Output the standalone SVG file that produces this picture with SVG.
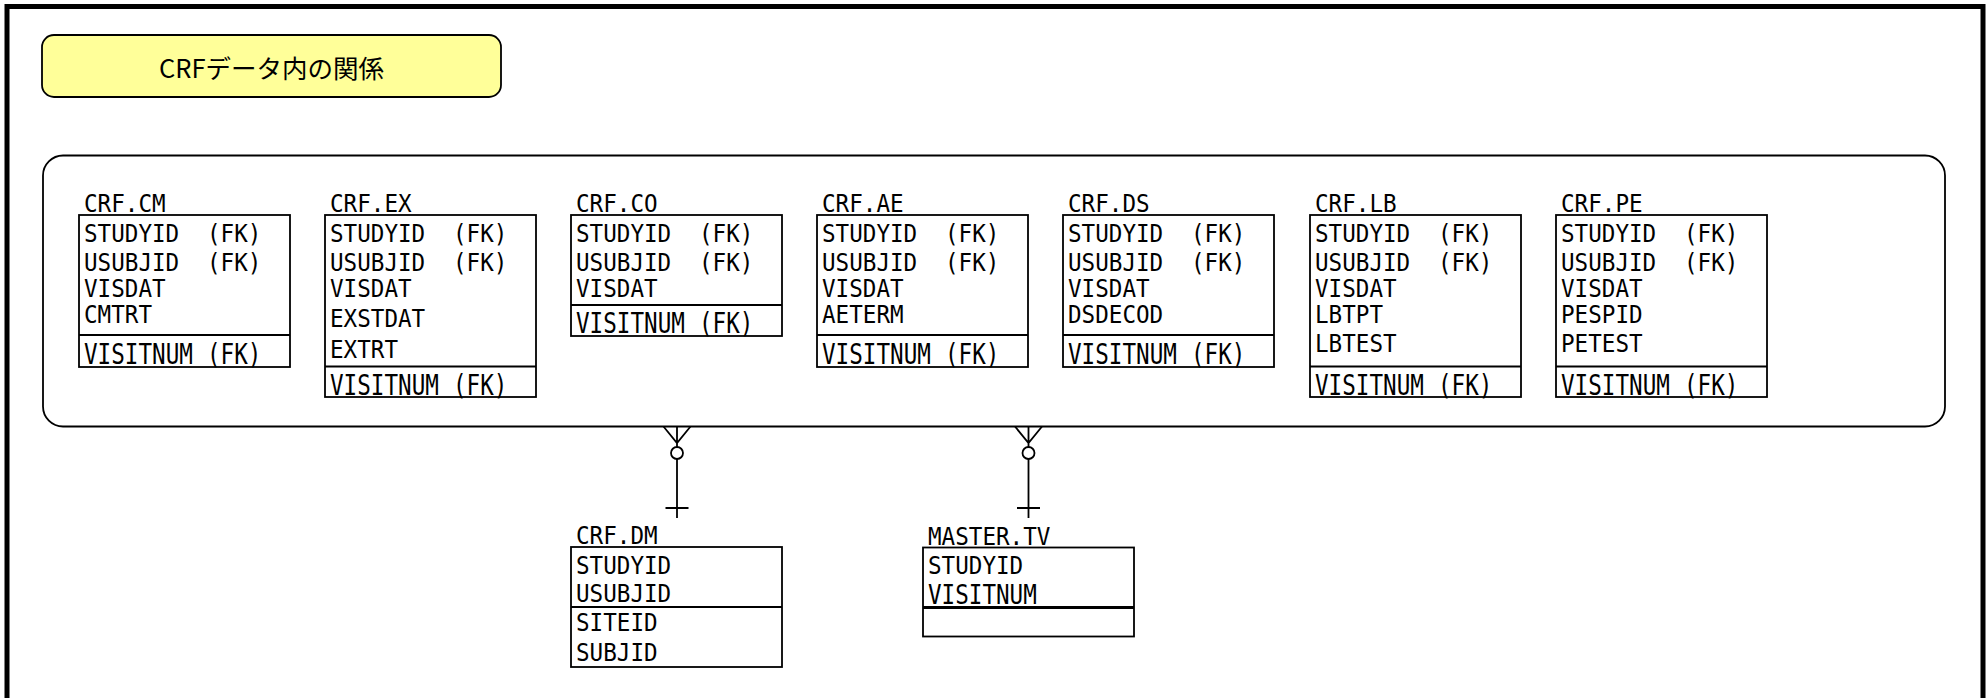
<svg xmlns="http://www.w3.org/2000/svg" width="1986" height="698" viewBox="0 0 1986 698">
<style>
.frame{fill:none;stroke:#000;stroke-width:5}
.titlebox{fill:#FFFF99;stroke:#000;stroke-width:1.8}
.ttl{font-family:"Noto Sans CJK JP","Noto Sans",sans-serif;font-size:25.5px;fill:#000}
.cont{fill:#fff;stroke:#000;stroke-width:1.8}
.box{fill:#fff;stroke:#000;stroke-width:1.8}
.sep{stroke:#000;stroke-width:1.8}
.sep2{stroke:#000;stroke-width:3}
.t{font-family:"DejaVu Sans Mono","Liberation Mono",monospace;font-size:22.6px;fill:#000}
.conn{stroke:#000;stroke-width:1.8;fill:none}
</style>
<rect class="frame" x="7" y="6.5" width="1976" height="760"/>
<g id="title">
<rect class="titlebox" x="42" y="35" width="459" height="62" rx="12"/>
<text class="ttl" x="271.5" y="78" text-anchor="middle">CRFデータ内の関係</text>
</g>
<g id="crf-container">
<rect class="cont" x="43" y="155.5" width="1902" height="271" rx="20"/>
</g>
<g id="crf-cm" transform="translate(79,215)">
<text class="t" transform="translate(5,-3) scale(1,1.1)">CRF.CM</text>
<rect class="box" x="0" y="0" width="211" height="152"/>
<line class="sep" x1="0" y1="120" x2="211" y2="120"/>
<text class="t" transform="translate(5,27) scale(1,1.11)">STUDYID</text><text class="t" transform="translate(128,27) scale(1,1.11)">(FK)</text>
<text class="t" transform="translate(5,56) scale(1,1.11)">USUBJID</text><text class="t" transform="translate(128,56) scale(1,1.11)">(FK)</text>
<text class="t" transform="translate(5,82) scale(1,1.11)">VISDAT</text>
<text class="t" transform="translate(5,108) scale(1,1.11)">CMTRT</text>
<text class="t" transform="translate(5,148.5) scale(1,1.25)">VISITNUM</text><text class="t" transform="translate(128,148.5) scale(1,1.25)">(FK)</text>
</g>
<g id="crf-ex" transform="translate(325,215)">
<text class="t" transform="translate(5,-3) scale(1,1.1)">CRF.EX</text>
<rect class="box" x="0" y="0" width="211" height="182"/>
<line class="sep" x1="0" y1="151.5" x2="211" y2="151.5"/>
<text class="t" transform="translate(5,27) scale(1,1.11)">STUDYID</text><text class="t" transform="translate(128,27) scale(1,1.11)">(FK)</text>
<text class="t" transform="translate(5,56) scale(1,1.11)">USUBJID</text><text class="t" transform="translate(128,56) scale(1,1.11)">(FK)</text>
<text class="t" transform="translate(5,82) scale(1,1.11)">VISDAT</text>
<text class="t" transform="translate(5,112) scale(1,1.11)">EXSTDAT</text>
<text class="t" transform="translate(5,143) scale(1,1.11)">EXTRT</text>
<text class="t" transform="translate(5,179.5) scale(1,1.25)">VISITNUM</text><text class="t" transform="translate(128,179.5) scale(1,1.25)">(FK)</text>
</g>
<g id="crf-co" transform="translate(571,215)">
<text class="t" transform="translate(5,-3) scale(1,1.1)">CRF.CO</text>
<rect class="box" x="0" y="0" width="211" height="121"/>
<line class="sep" x1="0" y1="90" x2="211" y2="90"/>
<text class="t" transform="translate(5,27) scale(1,1.11)">STUDYID</text><text class="t" transform="translate(128,27) scale(1,1.11)">(FK)</text>
<text class="t" transform="translate(5,56) scale(1,1.11)">USUBJID</text><text class="t" transform="translate(128,56) scale(1,1.11)">(FK)</text>
<text class="t" transform="translate(5,82) scale(1,1.11)">VISDAT</text>
<text class="t" transform="translate(5,118) scale(1,1.25)">VISITNUM</text><text class="t" transform="translate(128,118) scale(1,1.25)">(FK)</text>
</g>
<g id="crf-ae" transform="translate(817,215)">
<text class="t" transform="translate(5,-3) scale(1,1.1)">CRF.AE</text>
<rect class="box" x="0" y="0" width="211" height="152"/>
<line class="sep" x1="0" y1="120" x2="211" y2="120"/>
<text class="t" transform="translate(5,27) scale(1,1.11)">STUDYID</text><text class="t" transform="translate(128,27) scale(1,1.11)">(FK)</text>
<text class="t" transform="translate(5,56) scale(1,1.11)">USUBJID</text><text class="t" transform="translate(128,56) scale(1,1.11)">(FK)</text>
<text class="t" transform="translate(5,82) scale(1,1.11)">VISDAT</text>
<text class="t" transform="translate(5,108) scale(1,1.11)">AETERM</text>
<text class="t" transform="translate(5,148.5) scale(1,1.25)">VISITNUM</text><text class="t" transform="translate(128,148.5) scale(1,1.25)">(FK)</text>
</g>
<g id="crf-ds" transform="translate(1063,215)">
<text class="t" transform="translate(5,-3) scale(1,1.1)">CRF.DS</text>
<rect class="box" x="0" y="0" width="211" height="152"/>
<line class="sep" x1="0" y1="120" x2="211" y2="120"/>
<text class="t" transform="translate(5,27) scale(1,1.11)">STUDYID</text><text class="t" transform="translate(128,27) scale(1,1.11)">(FK)</text>
<text class="t" transform="translate(5,56) scale(1,1.11)">USUBJID</text><text class="t" transform="translate(128,56) scale(1,1.11)">(FK)</text>
<text class="t" transform="translate(5,82) scale(1,1.11)">VISDAT</text>
<text class="t" transform="translate(5,108) scale(1,1.11)">DSDECOD</text>
<text class="t" transform="translate(5,148.5) scale(1,1.25)">VISITNUM</text><text class="t" transform="translate(128,148.5) scale(1,1.25)">(FK)</text>
</g>
<g id="crf-lb" transform="translate(1310,215)">
<text class="t" transform="translate(5,-3) scale(1,1.1)">CRF.LB</text>
<rect class="box" x="0" y="0" width="211" height="182"/>
<line class="sep" x1="0" y1="151.5" x2="211" y2="151.5"/>
<text class="t" transform="translate(5,27) scale(1,1.11)">STUDYID</text><text class="t" transform="translate(128,27) scale(1,1.11)">(FK)</text>
<text class="t" transform="translate(5,56) scale(1,1.11)">USUBJID</text><text class="t" transform="translate(128,56) scale(1,1.11)">(FK)</text>
<text class="t" transform="translate(5,82) scale(1,1.11)">VISDAT</text>
<text class="t" transform="translate(5,108) scale(1,1.11)">LBTPT</text>
<text class="t" transform="translate(5,137) scale(1,1.11)">LBTEST</text>
<text class="t" transform="translate(5,179.5) scale(1,1.25)">VISITNUM</text><text class="t" transform="translate(128,179.5) scale(1,1.25)">(FK)</text>
</g>
<g id="crf-pe" transform="translate(1556,215)">
<text class="t" transform="translate(5,-3) scale(1,1.1)">CRF.PE</text>
<rect class="box" x="0" y="0" width="211" height="182"/>
<line class="sep" x1="0" y1="151.5" x2="211" y2="151.5"/>
<text class="t" transform="translate(5,27) scale(1,1.11)">STUDYID</text><text class="t" transform="translate(128,27) scale(1,1.11)">(FK)</text>
<text class="t" transform="translate(5,56) scale(1,1.11)">USUBJID</text><text class="t" transform="translate(128,56) scale(1,1.11)">(FK)</text>
<text class="t" transform="translate(5,82) scale(1,1.11)">VISDAT</text>
<text class="t" transform="translate(5,108) scale(1,1.11)">PESPID</text>
<text class="t" transform="translate(5,137) scale(1,1.11)">PETEST</text>
<text class="t" transform="translate(5,179.5) scale(1,1.25)">VISITNUM</text><text class="t" transform="translate(128,179.5) scale(1,1.25)">(FK)</text>
</g>
<g id="crf-dm" transform="translate(571,547)">
<text class="t" transform="translate(5,-3) scale(1,1.1)">CRF.DM</text>
<rect class="box" x="0" y="0" width="211" height="120"/>
<line class="sep" x1="0" y1="60" x2="211" y2="60"/>
<text class="t" transform="translate(5,26.5) scale(1,1.11)">STUDYID</text>
<text class="t" transform="translate(5,55) scale(1,1.11)">USUBJID</text>
<text class="t" transform="translate(5,83.5) scale(1,1.11)">SITEID</text>
<text class="t" transform="translate(5,113.5) scale(1,1.11)">SUBJID</text>
</g>
<g id="master-tv" transform="translate(923,547.5)">
<text class="t" transform="translate(5,-3) scale(1,1.1)">MASTER.TV</text>
<rect class="box" x="0" y="0" width="211" height="89"/>
<line class="sep2" x1="0" y1="60" x2="211" y2="60"/>
<text class="t" transform="translate(5,26) scale(1,1.11)">STUDYID</text>
<text class="t" transform="translate(5,56) scale(1,1.15)">VISITNUM</text>
</g>
<g id="connectors">
<g id="conn-dm">
<path class="conn" d="M663.5,426.5 L677,443 L690.5,426.5 M677,426.5 V447"/>
<circle class="conn" cx="677" cy="453" r="6"/>
<path class="conn" d="M677,459 V518 M665.5,508 H688.5"/>
</g>
<g id="conn-tv">
<path class="conn" d="M1015,426.5 L1028.5,443 L1042,426.5 M1028.5,426.5 V447"/>
<circle class="conn" cx="1028.5" cy="453" r="6"/>
<path class="conn" d="M1028.5,459 V518 M1017,508 H1040"/>
</g>
</g>
</svg>
